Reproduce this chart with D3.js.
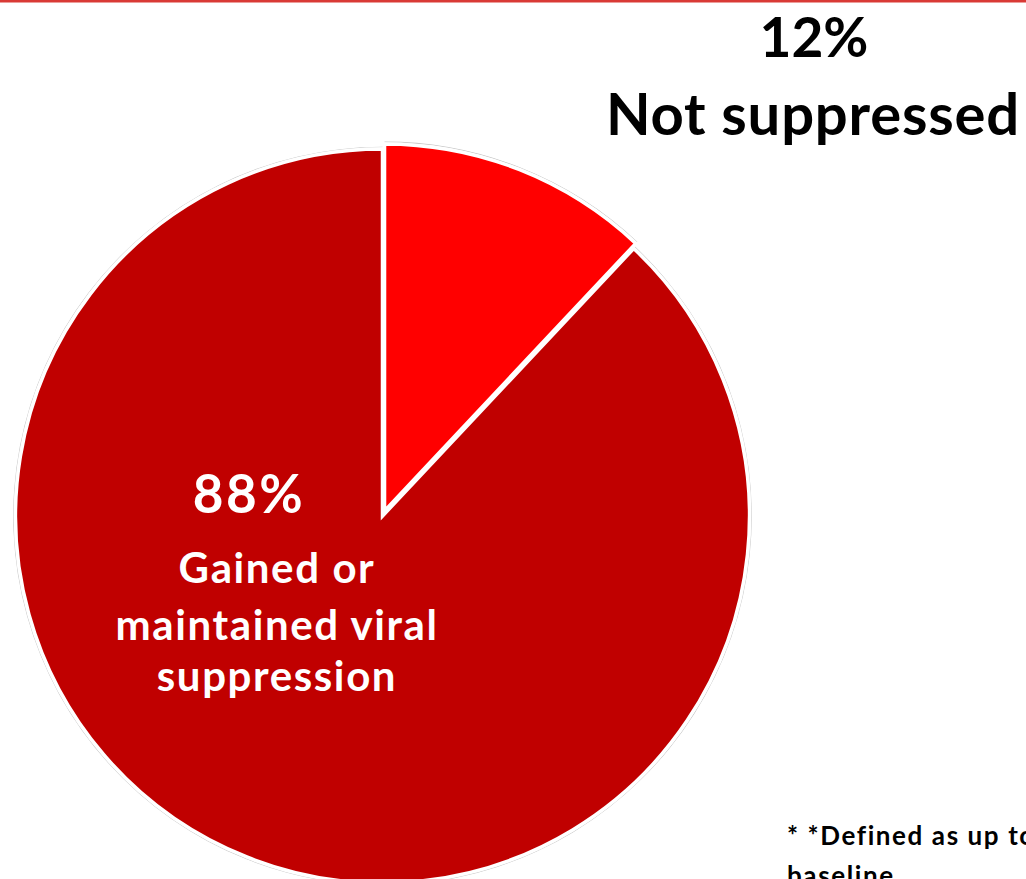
<!DOCTYPE html>
<html>
<head>
<meta charset="utf-8">
<script src="https://cdn.jsdelivr.net/npm/d3@7"></script>
<style>
  html, body { margin: 0; padding: 0; background: #fff; overflow: hidden; }
  svg { display: block; }
  text { font-family: Lato, "Open Sans", sans-serif; font-weight: 700; }
</style>
</head>
<body>
<svg id="chart" width="1026" height="879"></svg>
<script>
// Outcome categories and their shares (%)
const categories = ["Not suppressed", "Gained or maintained viral suppression"];
const values = [12, 88];
// Label lines shown for each category
const labelLines = [["Not suppressed"], ["Gained or", "maintained viral", "suppression"]];
const footnoteLines = ["* *Defined as up to", "baseline"];

const W = 1026, H = 879;
const svg = d3.select("#chart");

// Thin red rule across the top
svg.append("rect").attr("x", 0).attr("y", 0).attr("width", W).attr("height", 2.5).attr("fill", "#d93a35");

const cx = 382.5, cy = 516, R = 367;
const color = d3.scaleOrdinal().domain(categories).range(["#ff0000", "#c00000"]);

const pie = d3.pie().sort(null).value(d => d.value);
const arcs = pie(categories.map((c, i) => ({ category: c, value: values[i] })));
const arc = d3.arc().innerRadius(0).outerRadius(R);
const outline = d3.arc().innerRadius(R + 1.5).outerRadius(R + 2.3);

// The small slice is pulled out slightly from the centre
const explode = d => d.index === 0 ? 5.5 : 0;
const offset = d => {
  const mid = (d.startAngle + d.endAngle) / 2;
  const k = explode(d);
  return [k * Math.sin(mid), -k * Math.cos(mid)];
};

const g = svg.append("g").attr("transform", `translate(${cx},${cy})`);
const slice = g.selectAll("g.slice").data(arcs).join("g")
  .attr("class", "slice")
  .attr("transform", d => { const [dx, dy] = offset(d); return `translate(${dx},${dy})`; });

slice.append("path").attr("d", outline).attr("fill", "#c8c8c8");
slice.append("path")
  .attr("d", arc)
  .attr("fill", d => color(d.data.category))
  .attr("stroke", "#fff")
  .attr("stroke-width", 3.5)
  .attr("stroke-linejoin", "miter");

// Label for the small slice, placed outside at the upper right
const small = arcs[0];
const outerLabel = svg.append("g").attr("fill", "#000").attr("text-anchor", "middle");
outerLabel.append("text").attr("x", 814).attr("y", 57).attr("font-size", 55).text(`${small.data.value}%`);
outerLabel.append("text").attr("x", 813).attr("y", 135).attr("font-size", 58)
  .attr("letter-spacing", 0.8).text(labelLines[0][0]);

// Label for the large slice, inside it
const big = arcs[1];
const innerLabel = svg.append("g").attr("fill", "#fff").attr("text-anchor", "middle");
innerLabel.append("text").attr("x", 249).attr("y", 513).attr("font-size", 53)
  .attr("letter-spacing", 2.5).text(`${big.data.value}%`);
const lineY = [583, 640, 691];
labelLines[1].forEach((t, i) => {
  innerLabel.append("text").attr("x", 277).attr("y", lineY[i]).attr("font-size", 42)
    .attr("letter-spacing", 1.6).text(t);
});

// Footnote, running past the right edge
const foot = svg.append("g").attr("fill", "#000");
footnoteLines.forEach((t, i) => {
  foot.append("text").attr("x", 787).attr("y", 845 + i * 40).attr("font-size", 26)
    .attr("letter-spacing", 1.6).text(t);
});
</script>
</body>
</html>
